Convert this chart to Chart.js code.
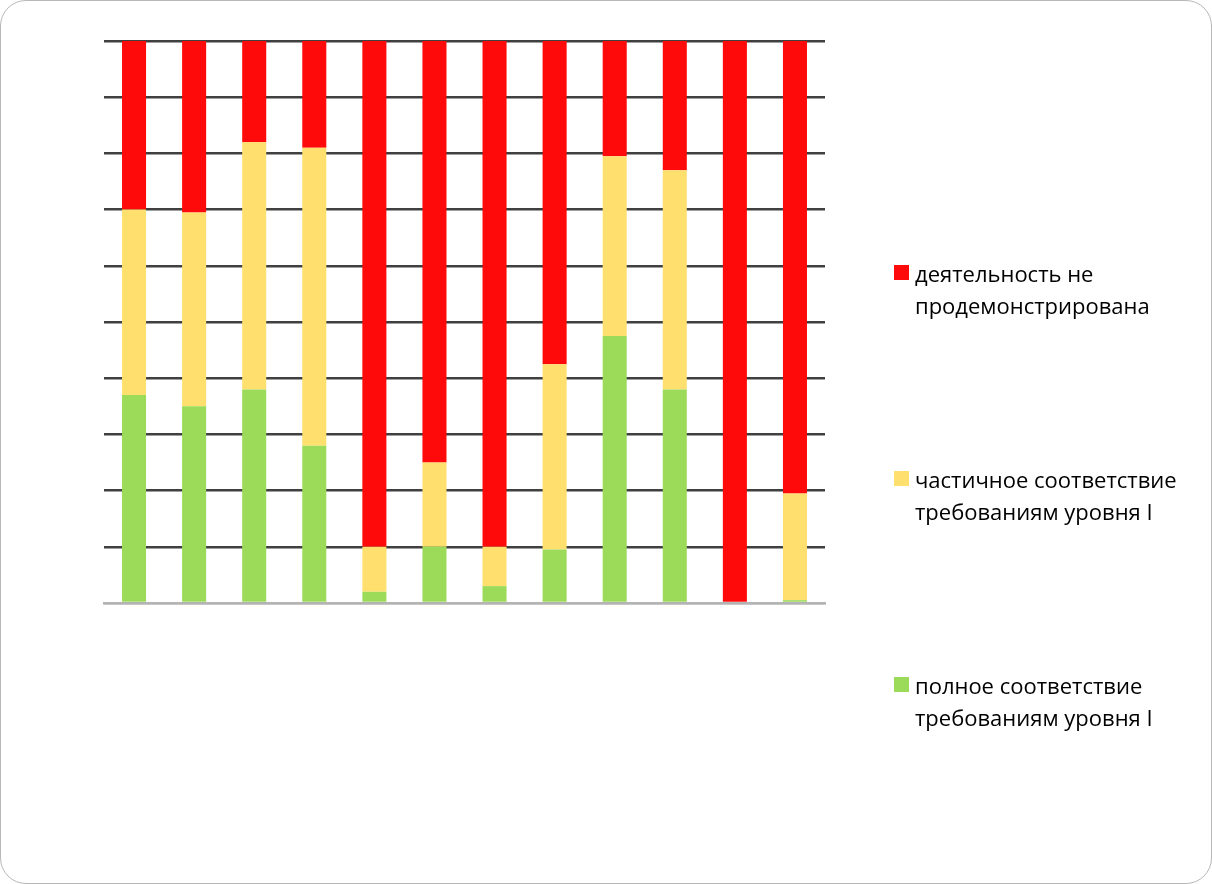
<!DOCTYPE html>
<html>
<head>
<meta charset="utf-8">
<script src="https://cdn.jsdelivr.net/npm/chart.js@4"></script>
<style>
  html, body { margin: 0; padding: 0; background: #fff; }
  #quadro {
    position: relative;
    width: 1210px;
    height: 882px;
    border: 1px solid #b8b8b8;
    border-radius: 26px;
    overflow: hidden;
  }
  canvas { position: absolute; left: 0; top: 0; }
</style>
</head>
<body>
<div id="quadro"><canvas id="grafico" width="1210" height="882"></canvas></div>
<script>
// 12 colunas, sem rótulos no eixo
const categorias = ['1', '2', '3', '4', '5', '6', '7', '8', '9', '10', '11', '12'];

const rotulos = [
  ['деятельность не', 'продемонстрирована'],
  ['частичное соответствие', 'требованиям уровня I'],
  ['полное соответствие', 'требованиям уровня I'],
];

// valores em % (empilhados até 100)
const polno = [37, 35, 38, 28, 2, 10, 3, 9.5, 47.5, 38, 0, 0.5];
const chastichno = [33, 34.5, 44, 53, 8, 15, 7, 33, 32, 39, 0, 19];
const neProdem = [30, 30.5, 18, 19, 90, 75, 90, 57.5, 20.5, 23, 100, 80.5];

const cores = ['#ff0a0a', '#ffe06e', '#9cda5a'];

// legenda desenhada à direita, em várias linhas
const legendaLateral = {
  id: 'legendaLateral',
  afterDraw(chart) {
    const ctx = chart.ctx;
    const topos = [264, 470, 676];
    ctx.save();
    ctx.font = '22px "Open Sans"';
    ctx.textBaseline = 'alphabetic';
    rotulos.forEach((linhas, i) => {
      ctx.fillStyle = cores[i];
      ctx.fillRect(893, topos[i], 15, 15);
      ctx.fillStyle = '#000';
      linhas.forEach((txt, j) => {
        ctx.fillText(txt, 914, topos[i] + 17 + j * 32);
      });
    });
    ctx.restore();
  },
};

new Chart(document.getElementById('grafico'), {
  type: 'bar',
  data: {
    labels: categorias,
    datasets: [
      { label: rotulos[2].join(' '), data: polno, backgroundColor: cores[2] },
      { label: rotulos[1].join(' '), data: chastichno, backgroundColor: cores[1] },
      { label: rotulos[0].join(' '), data: neProdem, backgroundColor: cores[0] },
    ],
  },
  options: {
    responsive: false,
    animation: false,
    layout: { padding: { left: 103, top: 40, right: 386, bottom: 280 } },
    datasets: { bar: { barPercentage: 0.4, categoryPercentage: 1 } },
    plugins: { legend: { display: false }, tooltip: { enabled: false } },
    scales: {
      x: {
        stacked: true,
        ticks: { display: false },
        grid: { display: false, drawTicks: false },
        border: { display: true, color: '#b4b4b4', width: 2.5 },
      },
      y: {
        stacked: true,
        min: 0,
        max: 100,
        ticks: { display: false, stepSize: 10 },
        grid: {
          drawTicks: false,
          color: (c) => (c.tick.value === 0 ? '#b4b4b4' : '#404040'),
          lineWidth: 2.5,
        },
        border: { display: false },
      },
    },
  },
  plugins: [legendaLateral],
});
</script>
</body>
</html>
